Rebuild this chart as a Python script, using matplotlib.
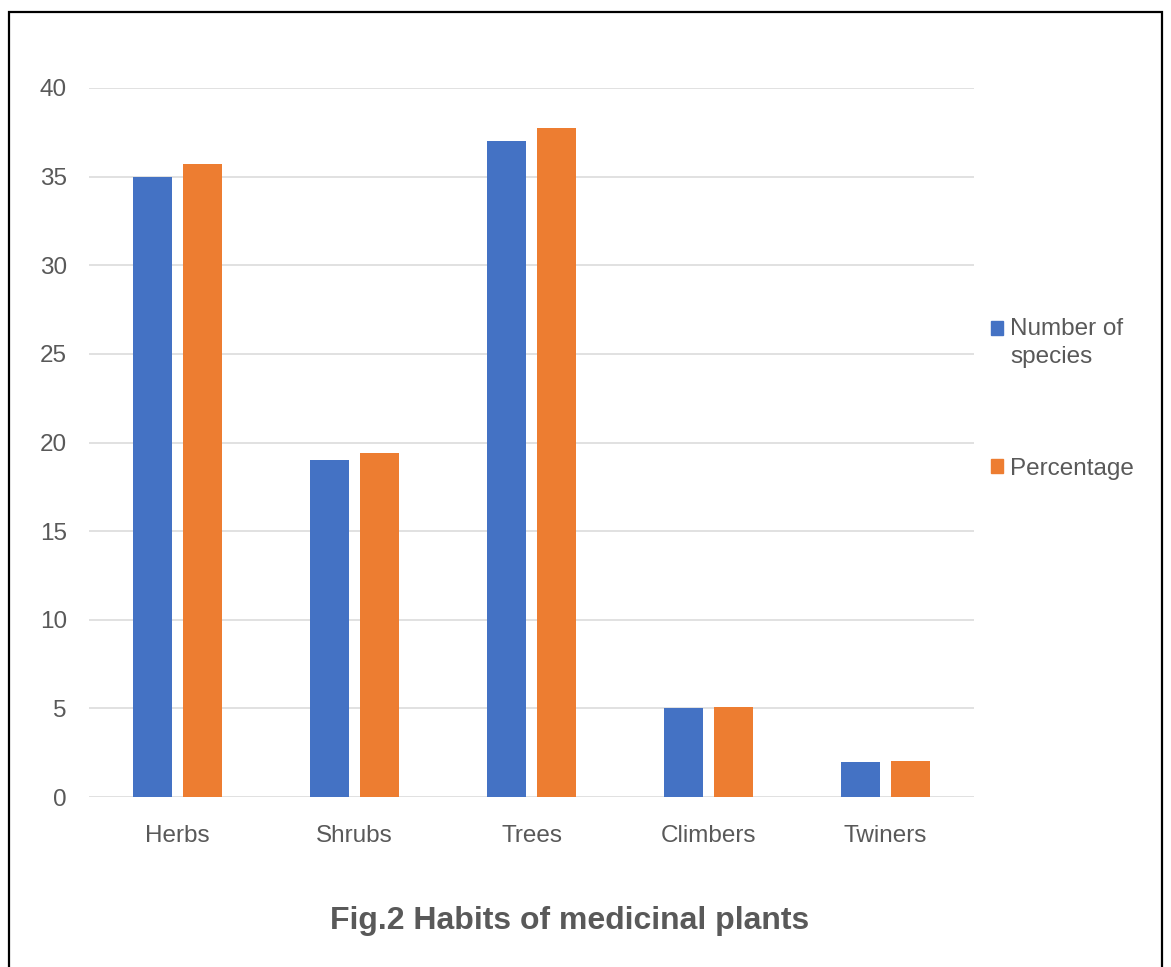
import matplotlib
matplotlib.use("Agg")
import matplotlib.pyplot as plt
from matplotlib.patches import Rectangle, Patch
from matplotlib.legend_handler import HandlerPatch

plt.rcParams['font.family'] = ['Liberation Sans', 'DejaVu Sans']

categories = ["Herbs", "Shrubs", "Trees", "Climbers", "Twiners"]
num_species = [35, 19, 37, 5, 2]
percentage = [35.71, 19.39, 37.76, 5.10, 2.04]
series_labels = ["Number of\nspecies", "Percentage"]
y_ticks = [0, 5, 10, 15, 20, 25, 30, 35, 40]

BLUE = "#4472C4"
ORANGE = "#ED7D31"
TEXT = "#595959"
GRID = "#D9D9D9"
FS = 17.5

W, H = 1171, 967
fig = plt.figure(figsize=(W / 100, H / 100), dpi=100)
fig.patch.set_facecolor("white")

# outer frame
fig.patches.append(Rectangle((9 / W, -0.01), (1162 - 9) / W, 1 - 12 / H + 0.01,
                             transform=fig.transFigure, fill=False,
                             edgecolor="black", linewidth=1.6))

ax = fig.add_axes([89 / W, 1 - 797 / H, (974 - 89) / W, (797 - 88) / H])
x = list(range(len(categories)))
bw = 0.22
off = 0.141
ax.bar([i - off for i in x], num_species, width=bw, color=BLUE, zorder=3)
ax.bar([i + off for i in x], percentage, width=bw, color=ORANGE, zorder=3)

ax.set_xlim(-0.5, len(categories) - 0.5)
ax.set_ylim(0, 40)
ax.set_yticks(y_ticks)
ax.set_xticks(x)
ax.set_xticklabels(categories)
ax.tick_params(axis="both", length=0, labelsize=FS, labelcolor=TEXT)
ax.tick_params(axis="x", pad=20)
ax.tick_params(axis="y", pad=16)
ax.grid(axis="y", color=GRID, linewidth=1.1, zorder=0)
for s in ax.spines.values():
    s.set_visible(False)


def top_aligned_square(shift):
    # legend key sitting level with the first line of a multi-line label
    def make(legend, orig_handle, xdescent, ydescent, width, height, fontsize):
        return Rectangle((-xdescent, -ydescent + shift * fontsize), width, height)
    return make


handles = [Patch(color=BLUE), Patch(color=ORANGE)]
leg = fig.legend(handles, series_labels, loc="upper left",
                 bbox_to_anchor=(991 / W, 1 - 318 / H), frameon=False,
                 borderpad=0, borderaxespad=0,
                 fontsize=FS, labelcolor=TEXT, handlelength=0.5,
                 handleheight=0.5, handletextpad=0.3, labelspacing=3.7,
                 handler_map={handles[0]: HandlerPatch(patch_func=top_aligned_square(0.62))})
for t in leg.get_texts():
    t.set_linespacing(1.35)

fig.text(570 / W, 1 - 921 / H, "Fig.2 Habits of medicinal plants",
         ha="center", va="center", fontsize=23, fontweight="bold", color=TEXT)

fig.savefig("out.png", dpi=100)
